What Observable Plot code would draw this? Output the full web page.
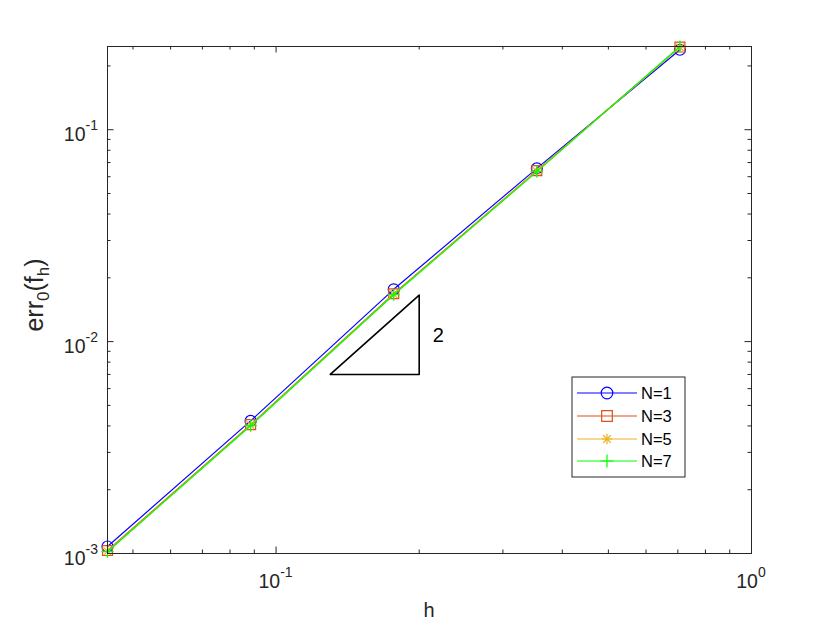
<!DOCTYPE html>
<html><head><meta charset="utf-8">
<script src="https://cdn.jsdelivr.net/npm/d3@7"></script>
<script src="https://cdn.jsdelivr.net/npm/@observablehq/plot@0.6"></script>
<style>body{margin:0;background:#fff} #chart{width:830px;height:623px}</style>
</head><body><div id="chart"></div>
<script>
// ---- data ----
const h = [0.7071, 0.3536, 0.1768, 0.0884, 0.0442];
const errN1 = [0.2384, 0.0657, 0.01765, 0.004225, 0.001079];
const errN3 = [0.2455, 0.0641, 0.01682, 0.004058, 0.001033];
const errN5 = [0.2450, 0.0638, 0.01672, 0.004035, 0.001024];
const errN7 = [0.2470, 0.0634, 0.01664, 0.004010, 0.001020];
const seriesNames = ["N=1", "N=3", "N=5", "N=7"];
const seriesColors = ["#0000ff", "#d95319", "#edb120", "#00ff00"];
const seriesValues = [errN1, errN3, errN5, errN7];
const xDomain = [0.0442, 1];
const yDomain = [0.001, 0.247];
const xMajor = [0.1, 1];
const xMajorExp = ["-1", "0"];
const xMinor = [0.05, 0.06, 0.07, 0.08, 0.09, 0.2, 0.3, 0.4, 0.5, 0.6, 0.7, 0.8, 0.9];
const yMajor = [0.001, 0.01, 0.1];
const yMajorExp = ["-3", "-2", "-1"];
const yMinor = [0.002,0.003,0.004,0.005,0.006,0.007,0.008,0.009,0.02,0.03,0.04,0.05,0.06,0.07,0.08,0.09,0.2];
const triH = [0.13, 0.2, 0.2, 0.13];
const triErr = [0.007, 0.007, 0.01657, 0.007];
const slopeLabel = [{h: 0.2, err: 0.0107, text: "2"}];

// ---- build ----
const W = 830, H = 623, mL = 107, mR = 79, mT = 46, mB = 70;
const plotW = W - mL - mR, plotH = H - mT - mB;
const FONT = "'Liberation Sans', Arial, Helvetica, sans-serif";
const AX = "#262626";

const data = seriesNames.map((name, i) => h.map((hv, j) => ({h: hv, err: seriesValues[i][j], series: name})));
const tri = triH.map((v, i) => ({h: v, err: triErr[i]}));
const SW = 1.2;

const symbolsFor = [
  (d, c) => [Plot.dot(d, {x: "h", y: "err", symbol: "circle", r: 5.5, stroke: c, strokeWidth: SW})],
  (d, c) => [Plot.dot(d, {x: "h", y: "err", symbol: "square", r: 5.6, stroke: c, strokeWidth: SW})],
  (d, c) => [Plot.dot(d, {x: "h", y: "err", symbol: "plus", r: 3.5, stroke: c, strokeWidth: SW}),
             Plot.dot(d, {x: "h", y: "err", symbol: "times", r: 3.5, stroke: c, strokeWidth: SW})],
  (d, c) => [Plot.dot(d, {x: "h", y: "err", symbol: "plus", r: 4.0, stroke: c, strokeWidth: SW})]
];

const seriesMarks = data.flatMap((d, i) => [
  Plot.line(d, {x: "h", y: "err", stroke: seriesColors[i], strokeWidth: SW}),
  ...symbolsFor[i](d, seriesColors[i])
]);

const plot = Plot.plot({
  width: W, height: H,
  marginLeft: mL, marginRight: mR, marginTop: mT, marginBottom: mB,
  x: {type: "log", domain: xDomain, axis: null},
  y: {type: "log", domain: yDomain, axis: null},
  style: {background: "white", fontFamily: FONT},
  marks: [
    Plot.frame({fill: "white"}),
    Plot.tickX(xMajor, {x: d => d, insetTop: plotH - 6.5, stroke: AX}),
    Plot.tickX(xMajor, {x: d => d, insetBottom: plotH - 6.5, stroke: AX}),
    Plot.tickX(xMinor, {x: d => d, insetTop: plotH - 3.5, stroke: AX}),
    Plot.tickX(xMinor, {x: d => d, insetBottom: plotH - 3.5, stroke: AX}),
    Plot.tickY(yMajor, {y: d => d, insetRight: plotW - 6.5, stroke: AX}),
    Plot.tickY(yMajor, {y: d => d, insetLeft: plotW - 6.5, stroke: AX}),
    Plot.tickY(yMinor, {y: d => d, insetRight: plotW - 3.5, stroke: AX}),
    Plot.tickY(yMinor, {y: d => d, insetLeft: plotW - 3.5, stroke: AX}),
    ...seriesMarks,
    Plot.line(tri, {x: "h", y: "err", stroke: "black", strokeWidth: 1.6}),
    Plot.text(slopeLabel, {x: "h", y: "err", text: "text", dx: 19, fontSize: 20, fill: "#000", fontFamily: FONT}),
    Plot.frame({stroke: AX, strokeWidth: 1})
  ]
});

document.getElementById("chart").appendChild(plot);

// ---- tick labels with superscripts, axis labels, legend ----
const svg = d3.select(plot);
const xs = plot.scale("x"), ys = plot.scale("y");
const g = svg.append("g").attr("font-family", FONT).attr("fill", "#262626");

xMajor.forEach((v, i) => {
  const t = g.append("text").attr("x", xs.apply(v)).attr("y", H - mB + 35)
    .attr("text-anchor", "middle").attr("font-size", 19.5);
  t.append("tspan").text("10");
  t.append("tspan").attr("font-size", 14).attr("dy", -11).text(xMajorExp[i]);
});
yMajor.forEach((v, i) => {
  const t = g.append("text").attr("x", mL - 9).attr("y", ys.apply(v) + 11.5)
    .attr("text-anchor", "end").attr("font-size", 19.5);
  t.append("tspan").text("10");
  t.append("tspan").attr("font-size", 14).attr("dy", -11).text(yMajorExp[i]);
});

// x label
g.append("text").attr("x", mL + plotW / 2).attr("y", 617).attr("text-anchor", "middle")
  .attr("font-size", 20).text("h");
// y label
const yl = g.append("text").attr("transform", `translate(43,295) rotate(-90)`)
  .attr("text-anchor", "middle").attr("font-size", 25);
yl.append("tspan").text("err");
yl.append("tspan").attr("font-size", 17).attr("dy", 6).text("0");
yl.append("tspan").attr("dy", -6).text("(f");
yl.append("tspan").attr("font-size", 17).attr("dy", 6).text("h");
yl.append("tspan").attr("dy", -6).text(")");

// legend
const lg = svg.append("g").attr("font-family", FONT).attr("text-anchor", "start");
const lx = 572, ly = 377, lw = 113, lh = 100;
lg.append("rect").attr("x", lx).attr("y", ly).attr("width", lw).attr("height", lh)
  .attr("fill", "white").attr("stroke", AX).attr("stroke-width", 1);
const rowY = [393, 416, 439, 461];
const legendSym = [
  [[d3.symbolCircle, 5.8]], [[d3.symbolSquare, 6.0]],
  [[d3.symbolPlus, 3.5], [d3.symbolTimes, 3.5]], [[d3.symbolPlus, 4.2]]
];
seriesNames.forEach((name, i) => {
  const y = rowY[i];
  lg.append("line").attr("x1", 577).attr("x2", 637).attr("y1", y).attr("y2", y)
    .attr("stroke", seriesColors[i]).attr("stroke-width", SW);
  legendSym[i].forEach(([sym, r]) => {
    lg.append("path").attr("d", d3.symbol(sym, Math.PI * r * r)())
      .attr("transform", `translate(607,${y})`).attr("fill", "none")
      .attr("stroke", seriesColors[i]).attr("stroke-width", SW);
  });
  lg.append("text").attr("x", 641).attr("y", y + 6).attr("font-size", 16.5)
    .attr("text-anchor", "start").attr("fill", "#000").text(name);
});
</script>
</body></html>
